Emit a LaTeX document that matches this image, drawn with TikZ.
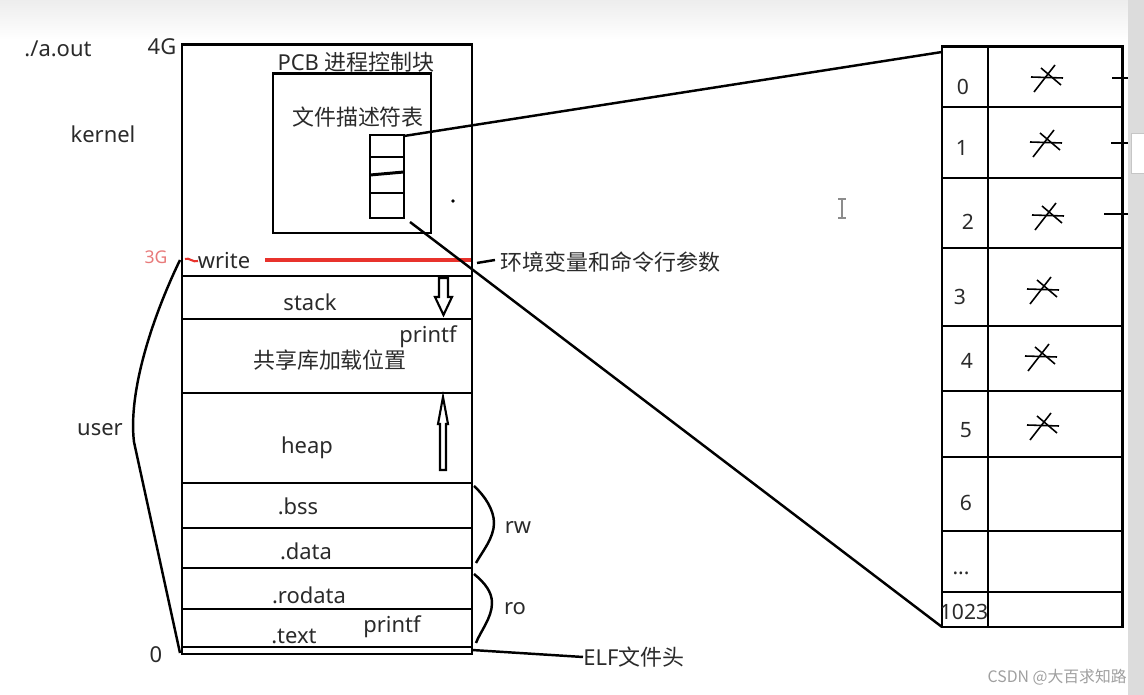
\documentclass[tikz,border=0pt]{standalone}
\usepackage{fontspec}
\setmainfont{Noto Sans}
\newfontfamily\cjk{Noto Sans CJK SC}
\usetikzlibrary{positioning,calc}
\definecolor{MEMred}{HTML}{e8322c}
\definecolor{MEMlightred}{HTML}{e87a7a}
\definecolor{MEMtext}{HTML}{2a2a2a}
\definecolor{MEMstrip}{HTML}{dcdcdc}
\definecolor{MEMmark}{HTML}{8c8c8c}

\begin{document}
\begin{tikzpicture}[
    x=0.02cm,y=-0.02cm,
    seg/.style={line width=1.7pt},
    wire/.style={line width=1.4pt},
    lbl/.style={inner sep=0pt,text=MEMtext,font=\fontsize{12.5}{14}\selectfont},
    cjklbl/.style={lbl,font=\fontsize{12.5}{14}\selectfont\cjk},
    idx/.style={lbl,font=\fontsize{12}{14}\selectfont},
    hollow/.style={line width=1.2pt,fill=white},
    strike/.pic={
      \draw[line width=0.9pt] (-16,0) -- (16,1);
      \draw[line width=0.9pt] (-13,15) -- (8,-12);
      \draw[line width=0.9pt] (-6,-9) -- (14,8);
    }
  ]
    \useasboundingbox (0,0) rectangle (1144,695);

    % screen background
    \shade[top color=gray!14,bottom color=white] (0,0) rectangle (1128,40);
    \fill[MEMstrip] (1128,0) rectangle (1144,695);
    \filldraw[fill=white,draw=gray!45] (1131,133) rectangle (1146,173);

    % PROCESS ADDRESS SPACE
    \draw[seg] (182,45) rectangle (472,654);
    \draw[seg] (182,276) -- (472,276);
    \draw[seg] (182,319) -- (472,319);
    \draw[seg] (182,393) -- (472,393);
    \draw[seg] (182,483) -- (472,483);
    \draw[seg] (182,528) -- (472,528);
    \draw[seg] (182,568) -- (472,568);
    \draw[seg] (182,609) -- (472,609);
    \draw[seg] (182,647) -- (472,647);

    % PCB and descriptor table
    \draw[seg] (273,74) rectangle (431,233);
    \node[lbl] (pcb) at (356,62) {PCB {\cjk 进程控制块}};
    \node[cjklbl] (fdname) at (358,117) {文件描述符表};
    \coordinate (fdsmalltl) at (370,135);
    \coordinate (fdsmallbr) at (404,218);
    \draw[seg] (fdsmalltl) rectangle (fdsmallbr);
    \draw[seg] (370,157) -- (404,157);
    \draw[seg] (370,175) -- (404,172);
    \draw[seg] (370,193) -- (404,193);
    \fill (453,201) circle (1.8);

    % segment labels
    \node[lbl] (write) at (224,261) {write};
    \draw[MEMred,line width=1.2pt] (185,259) .. controls (189,257) and (193,263) .. (198,261);
    \draw[MEMred,line width=2pt] (265,260) -- (471,260);
    \node[lbl] (stack) at (310,302) {stack};
    \node[lbl] (printfa) at (428,337) {printf};
    \node[cjklbl] (shlib) at (330,360) {共享库加载位置};
    \node[lbl] (heap) at (307,448) {heap};
    \node[lbl] (bss) at (298,506) {.bss};
    \node[lbl] (data) at (306,551) {.data};
    \node[lbl] (rodata) at (309,595) {.rodata};
    \node[lbl] (text) at (294,636) {.text};
    \node[lbl] (printfb) at (392,627) {printf};

    % growth arrows
    \draw[hollow] (439,278) -- (448,278) -- (448,297) -- (452,297) -- (443.5,315) -- (435,297) -- (439,297) -- cycle;
    \draw[hollow] (443,397) -- (448,424) -- (446,424) -- (446,470) -- (440,470) -- (440,424) -- (438,424) -- cycle;

    % Labels - left
    \node[lbl] (aout) at (58,49) {./a.out};
    \node[lbl] (top) at (162,47) {4G};
    \node[lbl] (kernel) at (103,134) {kernel};
    \node[lbl,text=MEMlightred,font=\fontsize{10}{12}\selectfont] (mid) at (156,257) {3G};
    \node[lbl] (user) at (100,430) {user};
    \node[lbl] (zero) at (156,655) {0};
    \draw[wire] (180,260) .. controls (152,318) and (128,392) .. (134,442) -- (180,653);

    % Labels - right
    \draw[wire] (474,486) .. controls (485,496) and (494,510) .. (494,523) .. controls (494,538) and (482,552) .. (476,563);
    \draw[wire] (474,574) .. controls (485,583) and (492,592) .. (492,603) .. controls (492,618) and (480,632) .. (476,643);
    \node[lbl] (rw) at (518,528) {rw};
    \node[lbl] (ro) at (515,609) {ro};
    \draw[wire] (477,263) -- (495,260);
    \node[cjklbl,anchor=west] (env) at (500,262) {环境变量和命令行参数};
    \node[lbl,anchor=west] (elf) at (583,657) {ELF{\cjk 文件头}};
    \draw[wire] (472,650) -- (elf.west);

    % FILE DESCRIPTOR TABLE
    \coordinate (fdtl) at (942,47);
    \coordinate (fdbr) at (1122,627);
    \draw[seg] (fdtl) rectangle (fdbr);
    \draw[seg] (988,47) -- (988,627);
    \draw[seg] (942,107) -- (1122,107);
    \draw[seg] (942,178) -- (1122,178);
    \draw[seg] (942,248) -- (1122,248);
    \draw[seg] (942,326) -- (1122,326);
    \draw[seg] (942,391) -- (1122,391);
    \draw[seg] (942,457) -- (1122,457);
    \draw[seg] (942,531) -- (1122,531);
    \draw[seg] (942,592) -- (1122,592);

    \node[idx] (fd0) at (963,87) {0};
    \node[idx] (fd1) at (962,148) {1};
    \node[idx] (fd2) at (968,222) {2};
    \node[idx] (fd3) at (960,297) {3};
    \node[idx] (fd4) at (967,361) {4};
    \node[idx] (fd5) at (966,430) {5};
    \node[idx] (fd6) at (966,503) {6};
    \node[idx] (fddots) at (961,573) {...};
    \node[idx] (fd1023) at (964,612) {1023};

    \pic at (1047,77) {strike};
    \pic at (1046,142) {strike};
    \pic at (1048,215) {strike};
    \pic at (1043,289) {strike};
    \pic at (1041,356) {strike};
    \pic at (1043,425) {strike};

    \draw[seg] (1112,78) -- (1128,78);
    \draw[seg] (1111,143) -- (1128,143);
    \draw[seg] (1104,214) -- (1128,214);

    % descriptor table to full table
    \draw[wire] (404,136) -- ($(fdtl)+(0,5)$);
    \draw[wire] (410,222) -- (fdtl |- fdbr);

    % screen marks
    \draw[MEMmark,line width=0.9pt] (842,199) -- (842,218);
    \draw[MEMmark,line width=0.9pt] (838,199) -- (846,199);
    \draw[MEMmark,line width=0.9pt] (838,218) -- (846,218);
    \node[lbl,text=gray!75,font=\fontsize{9}{11}\selectfont\cjk,anchor=east] (mark) at (1127,677) {CSDN @大百求知路};
\end{tikzpicture}
\end{document}
